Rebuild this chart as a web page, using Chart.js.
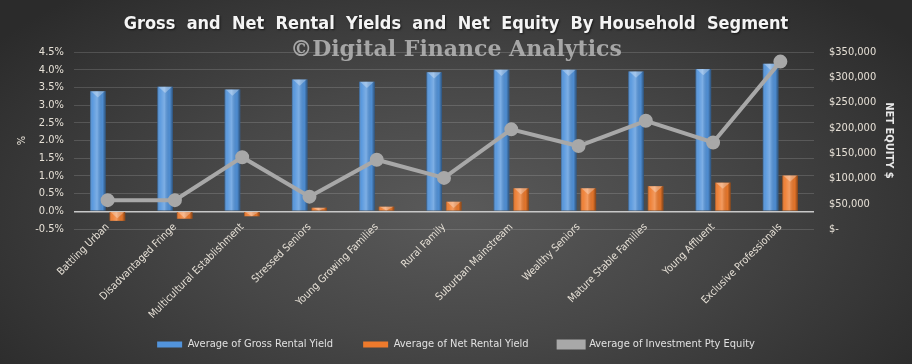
<!DOCTYPE html>
<html>
<head>
<meta charset="utf-8">
<script src="https://cdn.jsdelivr.net/npm/chart.js@4"></script>
<style>
  html, body { margin: 0; padding: 0; }
  body {
    width: 912px; height: 364px; overflow: hidden;
    background: radial-gradient(ellipse 62% 80% at 50% 58%, #5a5a5a 0%, #474747 45%, #2b2b2b 100%);
  }
  canvas { display: block; }
</style>
</head>
<body>
<canvas id="myChart" width="912" height="364"></canvas>
<script>
// Household segments along the x axis
var segments = [
  "Battling Urban", "Disadvantaged Fringe", "Multicultural Establishment",
  "Stressed Seniors", "Young Growing Families", "Rural Family",
  "Suburban Mainstream", "Wealthy Seniors", "Mature Stable Families",
  "Young Affluent", "Exclusive Professionals"
];

// Yields in %, equity in $
var grossYield = [3.39, 3.52, 3.44, 3.72, 3.66, 3.93, 4.00, 4.00, 3.95, 4.02, 4.17];
var netYield = [-0.27, -0.21, -0.14, 0.10, 0.13, 0.27, 0.65, 0.65, 0.71, 0.81, 1.01];
var netEquity = [57000, 57000, 142000, 64000, 137000, 101000, 197000, 164000, 214000, 171000, 331000];

var titleText = "Gross  and  Net  Rental  Yields  and  Net  Equity  By Household  Segment";
var watermarkText = "\u00A9Digital Finance Analytics";

var tickColor = "#e6e0d6";
var smallFont = "'DejaVu Sans Condensed', 'Open Sans', sans-serif";

// Title + watermark
var headerPlugin = {
  id: "header",
  afterLayout: function(chart) {
    // work out the label spots first, then widen the clip box so the
    // rotated category labels are not cut off
    var xs = chart.scales.x;
    xs.getLabelItems(chart.chartArea);
    xs.top = chart.chartArea.top;
    xs.bottom = chart.height;
  },
  beforeDatasetsDraw: function(chart) {
    var ctx = chart.ctx;
    ctx.save();
    ctx.textAlign = "center";
    ctx.textBaseline = "middle";
    ctx.font = "bold 22px 'DejaVu Serif', 'Liberation Serif', serif";
    ctx.fillStyle = "rgba(185,185,185,0.85)";
    ctx.fillText(watermarkText, 456, 50);
    ctx.restore();
  },
  afterDraw: function(chart) {
    var ctx = chart.ctx;
    ctx.save();
    ctx.textAlign = "center";
    ctx.textBaseline = "middle";
    ctx.font = "bold 18px 'DejaVu Sans Condensed', sans-serif";
    ctx.shadowColor = "rgba(0,0,0,0.6)";
    ctx.shadowOffsetX = 1;
    ctx.shadowOffsetY = 1;
    ctx.shadowBlur = 2;
    ctx.fillStyle = "#f4f4f4";
    ctx.fillText(titleText, 456, 24);
    ctx.restore();
  }
};

// Bevel shading on the bars
var bevelPlugin = {
  id: "bevel",
  afterDatasetDraw: function(chart, args) {
    if (args.meta.type !== "bar") return;
    var ctx = chart.ctx;
    ctx.save();
    args.meta.data.forEach(function(el) {
      var p = el.getProps(["x", "y", "base", "width"], true);
      var left = p.x - p.width / 2;
      var top = Math.min(p.y, p.base);
      var h = Math.abs(p.base - p.y);
      var g = ctx.createLinearGradient(left, 0, left + p.width, 0);
      g.addColorStop(0, "rgba(0,0,0,0.35)");
      g.addColorStop(0.15, "rgba(255,255,255,0.05)");
      g.addColorStop(0.45, "rgba(255,255,255,0.25)");
      g.addColorStop(0.8, "rgba(0,0,0,0.05)");
      g.addColorStop(1, "rgba(0,0,0,0.45)");
      ctx.fillStyle = g;
      ctx.fillRect(left, top, p.width, h);
      var t = Math.min(p.width * 0.4, h);
      ctx.beginPath();
      ctx.moveTo(left + 1, top);
      ctx.lineTo(left + p.width - 1, top);
      ctx.lineTo(p.x, top + t);
      ctx.closePath();
      ctx.fillStyle = "rgba(255,255,255,0.3)";
      ctx.fill();
    });
    ctx.restore();
  }
};

var ctx = document.getElementById("myChart");
var myChart = new Chart(ctx, {
  type: "bar",
  data: {
    labels: segments,
    datasets: [
      {
        label: "Average of Gross Rental Yield",
        data: grossYield,
        backgroundColor: "#5294dc",
        borderWidth: 0,
        yAxisID: "y",
        order: 1,
        categoryPercentage: 0.58,
        barPercentage: 0.8
      },
      {
        label: "Average of Net Rental Yield",
        data: netYield,
        backgroundColor: "#ee7a2c",
        borderWidth: 0,
        yAxisID: "y",
        order: 1,
        categoryPercentage: 0.58,
        barPercentage: 0.8
      },
      {
        type: "line",
        label: "Average of Investment Pty Equity",
        data: netEquity,
        borderColor: "#a8a8a8",
        backgroundColor: "#a8a8a8",
        borderWidth: 4,
        pointRadius: 5,
        pointBackgroundColor: "#a8a8a8",
        pointBorderColor: "#a8a8a8",
        tension: 0,
        yAxisID: "y2",
        order: 0
      }
    ]
  },
  options: {
    responsive: false,
    animation: false,
    layout: { padding: { top: 52, bottom: 4, left: 0, right: 0 } },
    plugins: {
      title: { display: false },
      tooltip: { enabled: false },
      legend: {
        position: "bottom",
        labels: {
          color: "#e0e0e0",
          font: { family: smallFont, size: 11 },
          boxWidth: 25,
          boxHeight: 6,
          padding: 30,
          sort: function(a, b) { return a.datasetIndex - b.datasetIndex; }
        }
      }
    },
    scales: {
      x: {
        grid: { display: false },
        border: { display: false },
        ticks: {
          color: tickColor,
          font: { family: smallFont, size: 10.5 },
          minRotation: 45,
          maxRotation: 45,
          autoSkip: false,
          padding: -16
        },
        afterFit: function(scale) { scale.height = 80; }
      },
      y: {
        position: "left",
        min: -0.5,
        max: 4.5,
        grid: {
          color: function(c) { return c.tick && c.tick.value === 0 ? "#c8c8c8" : "rgba(255,255,255,0.15)"; },
          lineWidth: function(c) { return c.tick && c.tick.value === 0 ? 1.5 : 1; },
          drawTicks: false
        },
        border: { display: false },
        ticks: {
          stepSize: 0.5,
          color: tickColor,
          font: { family: smallFont, size: 11 },
          padding: 10,
          callback: function(v) { return v.toFixed(1) + "%"; }
        },
        title: {
          display: true,
          text: "%",
          color: tickColor,
          font: { family: smallFont, size: 11 },
          padding: { top: 16 }
        },
        afterFit: function(scale) { scale.width = 74; }
      },
      y2: {
        position: "right",
        min: 0,
        max: 350000,
        grid: { display: false, drawTicks: false },
        border: { display: false },
        ticks: {
          stepSize: 50000,
          color: tickColor,
          font: { family: smallFont, size: 11 },
          padding: 15,
          callback: function(v) { return v === 0 ? "$-" : "$" + v.toLocaleString("en-US"); }
        },
        title: {
          display: true,
          text: "NET EQUITY $",
          color: "#e8e8e8",
          font: { family: smallFont, size: 11, weight: "bold" },
          padding: { top: 17 }
        },
        afterFit: function(scale) { scale.width = 98; }
      }
    }
  },
  plugins: [headerPlugin, bevelPlugin]
});
</script>
</body>
</html>
